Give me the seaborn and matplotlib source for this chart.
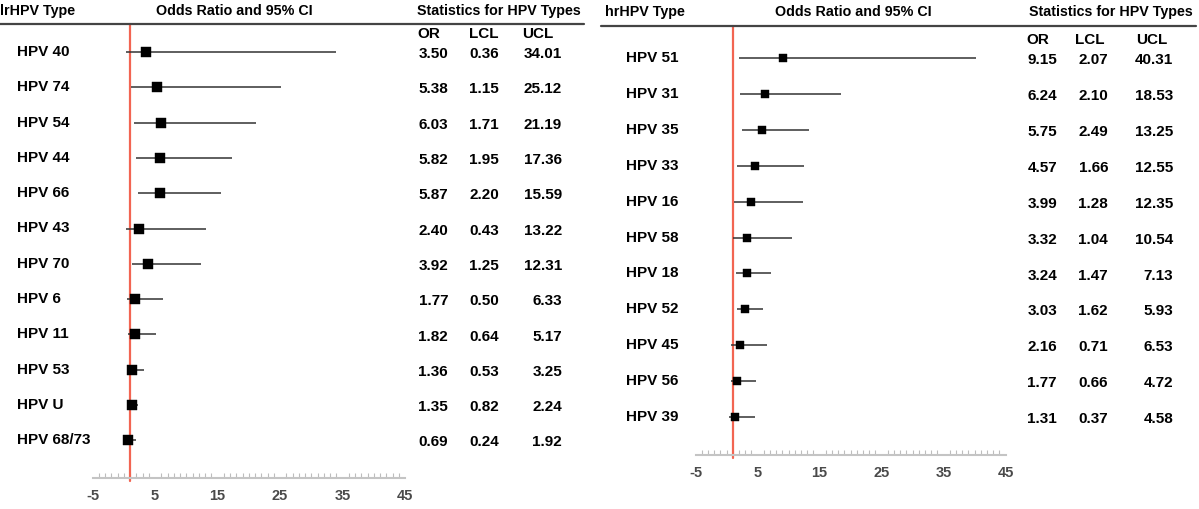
import numpy as np
import pandas as pd
import matplotlib
matplotlib.use("Agg")
import matplotlib.pyplot as plt
import matplotlib.transforms as mtransforms
from matplotlib.ticker import FixedLocator, MultipleLocator
import seaborn as sns

# ============================================================
# Data
# ============================================================

lr_types = ["HPV 40", "HPV 74", "HPV 54", "HPV 44", "HPV 66", "HPV 43",
            "HPV 70", "HPV 6", "HPV 11", "HPV 53", "HPV U", "HPV 68/73"]
lr_or = [3.50, 5.38, 6.03, 5.82, 5.87, 2.40, 3.92, 1.77, 1.82, 1.36, 1.35, 0.69]
lr_lcl = [0.36, 1.15, 1.71, 1.95, 2.20, 0.43, 1.25, 0.50, 0.64, 0.53, 0.82, 0.24]
lr_ucl = [34.01, 25.12, 21.19, 17.36, 15.59, 13.22, 12.31, 6.33, 5.17, 3.25, 2.24, 1.92]

hr_types = ["HPV 51", "HPV 31", "HPV 35", "HPV 33", "HPV 16", "HPV 58",
            "HPV 18", "HPV 52", "HPV 45", "HPV 56", "HPV 39"]
hr_or = [9.15, 6.24, 5.75, 4.57, 3.99, 3.32, 3.24, 3.03, 2.16, 1.77, 1.31]
hr_lcl = [2.07, 2.10, 2.49, 1.66, 1.28, 1.04, 1.47, 1.62, 0.71, 0.66, 0.37]
hr_ucl = [40.31, 18.53, 13.25, 12.55, 12.35, 10.54, 7.13, 5.93, 6.53, 4.72, 4.58]

tick_labels = [-5, 5, 15, 25, 35, 45]

# ============================================================
# Figure setup
# ============================================================

sns.set_style("white")
plt.rcParams["font.family"] = ["Liberation Sans", "DejaVu Sans"]
plt.rcParams["font.weight"] = "bold"

W, H = 1199, 509
fig = plt.figure(figsize=(W / 100, H / 100), dpi=100)

RED = "#f26552"
TXT = "black"


def fx(px):
    return px / W


def fy(py):
    return 1 - py / H


def draw_panel(types, odds, lcl, ucl, layout):
    df = pd.DataFrame({"type": types, "OR": odds, "LCL": lcl, "UCL": ucl})
    df["row"] = np.arange(len(df))

    x0, x1, top, bottom = layout["ax"]
    ax = fig.add_axes([fx(x0), fy(bottom), fx(x1 - x0), (bottom - top) / H])

    # confidence intervals
    ax.hlines(df["row"], df["LCL"], df["UCL"], color="#333333", lw=1.1, zorder=2)
    # point estimates
    sns.scatterplot(data=df, x="OR", y="row", marker="s", s=layout["ms"],
                    color="black", edgecolor="black", linewidth=0.3,
                    ax=ax, zorder=3, legend=False)
    # reference line at OR = 1
    ax.axvline(1, color=RED, lw=1.6, zorder=1, clip_on=False,
               ymin=-0.006, ymax=1)

    first, step = layout["rows"]
    ax.set_xlim(-5, 45)
    ax.set_ylim((bottom - first) / step, (top - first) / step)

    ax.xaxis.set_major_locator(FixedLocator(tick_labels))
    ax.xaxis.set_minor_locator(MultipleLocator(1))
    ax.tick_params(axis="x", which="major", direction="in", length=5,
                   width=1, color="#b5b5b5", pad=8, labelsize=10.5,
                   labelcolor="#4a4a4a")
    ax.tick_params(axis="x", which="minor", direction="in", length=3.5,
                   width=0.8, color="#bdbdbd", bottom=True)
    ax.set_xticklabels([str(t) for t in tick_labels], fontweight="bold")
    ax.set_yticks([])
    ax.set_xlabel("")
    ax.set_ylabel("")
    for side in ["top", "left", "right"]:
        ax.spines[side].set_visible(False)
    ax.spines["bottom"].set_color("#c4c4c4")
    ax.spines["bottom"].set_linewidth(1.5)

    # row labels and statistics, tied to the row positions of the axes
    trans = mtransforms.blended_transform_factory(fig.transFigure, ax.transData)
    for _, r in df.iterrows():
        ax.text(fx(layout["label_x"]), r["row"], r["type"], transform=trans,
                ha="left", va="center", fontsize=11, color=TXT,
                fontweight="bold", clip_on=False)
        for col, (hx, vx) in layout["cols"].items():
            ax.text(fx(vx), r["row"] + 0.06, f"{r[col]:.2f}", transform=trans,
                    ha="right", va="center", fontsize=11, color=TXT,
                    fontweight="bold", clip_on=False)
    for col, (hx, vx) in layout["cols"].items():
        ax.text(fx(hx), -0.5, col, transform=trans, ha="left", va="center",
                fontsize=11, color=TXT, fontweight="bold", clip_on=False)

    # header row
    hy = layout["head_y"]
    for text, px in zip(layout["heads"], layout["head_x"]):
        fig.text(fx(px), fy(hy), text, ha="left", va="center", fontsize=10.3,
                 color=TXT, fontweight="bold")
    lx0, lx1, ly = layout["head_line"]
    fig.add_artist(plt.Line2D([fx(lx0), fx(lx1)], [fy(ly), fy(ly)],
                              color="#444444", lw=1.6))
    return ax


left_layout = {
    "ax": (92.5, 405, 24, 478),
    "rows": (52, 35.3),
    "ms": 48,
    "label_x": 17,
    "cols": {"OR": (417, 448), "LCL": (469, 499), "UCL": (522, 562)},
    "heads": ["lrHPV Type", "Odds Ratio and 95% CI", "Statistics for HPV Types"],
    "head_x": [0, 156, 417],
    "head_y": 11,
    "head_line": (0, 584, 24),
}

right_layout = {
    "ax": (695.5, 1005.5, 26, 455),
    "rows": (58, 35.9),
    "ms": 30,
    "label_x": 626,
    "cols": {"OR": (1026, 1057), "LCL": (1075, 1108), "UCL": (1136, 1173)},
    "heads": ["hrHPV Type", "Odds Ratio and 95% CI", "Statistics for HPV Types"],
    "head_x": [605, 775, 1029],
    "head_y": 12,
    "head_line": (601, 1196, 26),
}

draw_panel(lr_types, lr_or, lr_lcl, lr_ucl, left_layout)
draw_panel(hr_types, hr_or, hr_lcl, hr_ucl, right_layout)

fig.savefig("out.png", dpi=100, facecolor="white")
